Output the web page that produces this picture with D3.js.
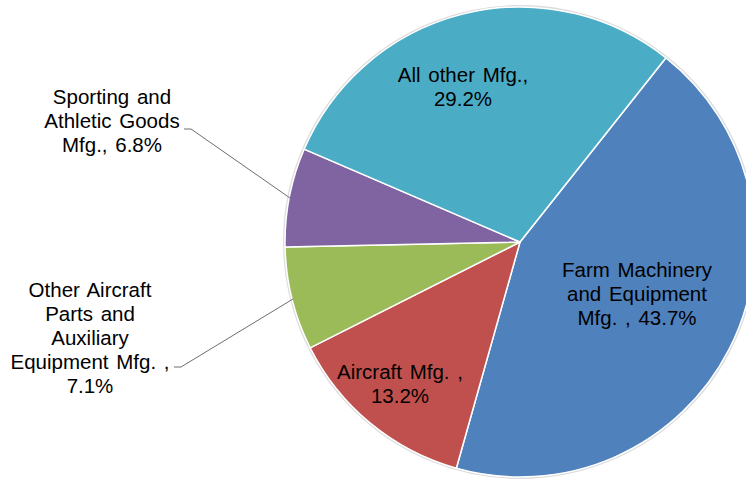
<!DOCTYPE html>
<html>
<head>
<meta charset="utf-8">
<script src="https://cdn.jsdelivr.net/npm/d3@7"></script>
<style>
  body { margin: 0; background: #fff; }
  text { font-family: "Liberation Sans", Arial, sans-serif; font-size: 20.5px; word-spacing: 2px; fill: #000; }
</style>
</head>
<body>
<div id="chart"></div>
<script>
var width = 746;
var height = 479;

// data, clockwise from the slice edge at upper right
var categories = ["Farm Machinery and Equipment Mfg.", "Aircraft Mfg.", "Other Aircraft Parts and Auxiliary Equipment Mfg.", "Sporting and Athletic Goods Mfg.", "All other Mfg."];
var shares = [43.7, 13.2, 7.1, 6.8, 29.2];
var labelLines = [
  ["Farm Machinery", "and Equipment", "Mfg. , 43.7%"],
  ["Aircraft Mfg. ,", "13.2%"],
  ["Other Aircraft", "Parts and", "Auxiliary", "Equipment Mfg. ,", "7.1%"],
  ["Sporting and", "Athletic Goods", "Mfg., 6.8%"],
  ["All other Mfg.,", "29.2%"]
];
var colors = ["#4f81bd", "#c0504d", "#9bbb59", "#8064a2", "#4bacc6"];

// layout
var cx = 520, cy = 242, radius = 235;
var startAngle = 38.4 * Math.PI / 180;
var lineH = 24;
// label centre (x, y of first line baseline) per slice
var labelPos = [
  [637, 277],
  [400, 379],
  [90, 297],
  [112, 104],
  [463, 82]
];
// leader lines for outside labels: [textEndX, textEndY, pieX, pieY]
var leaders = [
  null, null,
  [174, 367, 293, 299],
  [184, 129, 290, 198],
  null
];

var svg = d3.select("#chart").append("svg")
  .attr("width", width)
  .attr("height", height);

var pie = d3.pie().sort(null).value(function(d){ return d; })
  .startAngle(startAngle).endAngle(startAngle + 2 * Math.PI);
var arc = d3.arc().innerRadius(0).outerRadius(radius);

var g = svg.append("g").attr("transform", "translate(" + cx + "," + cy + ")");

g.append("circle")
  .attr("r", radius + 1)
  .attr("fill", "none")
  .attr("stroke", "#dcdcdc")
  .attr("stroke-width", 2);

g.selectAll("path.slice")
  .data(pie(shares))
  .enter().append("path")
  .attr("class", "slice")
  .attr("d", arc)
  .attr("fill", function(d, i){ return colors[i]; })
  .attr("stroke", "#fff")
  .attr("stroke-width", 1.5);

// leader lines
leaders.forEach(function(l){
  if (!l) return;
  svg.append("path")
    .attr("d", "M" + l[0] + "," + l[1] + "h7L" + l[2] + "," + l[3])
    .attr("fill", "none")
    .attr("stroke", "#6e6e6e")
    .attr("stroke-width", 1);
});

// labels
labelLines.forEach(function(lines, i){
  var t = svg.append("text")
    .attr("text-anchor", "middle")
    .attr("x", labelPos[i][0])
    .attr("y", labelPos[i][1]);
  lines.forEach(function(s, j){
    t.append("tspan")
      .attr("x", labelPos[i][0])
      .attr("dy", j === 0 ? 0 : lineH)
      .text(s);
  });
});
</script>
</body>
</html>
